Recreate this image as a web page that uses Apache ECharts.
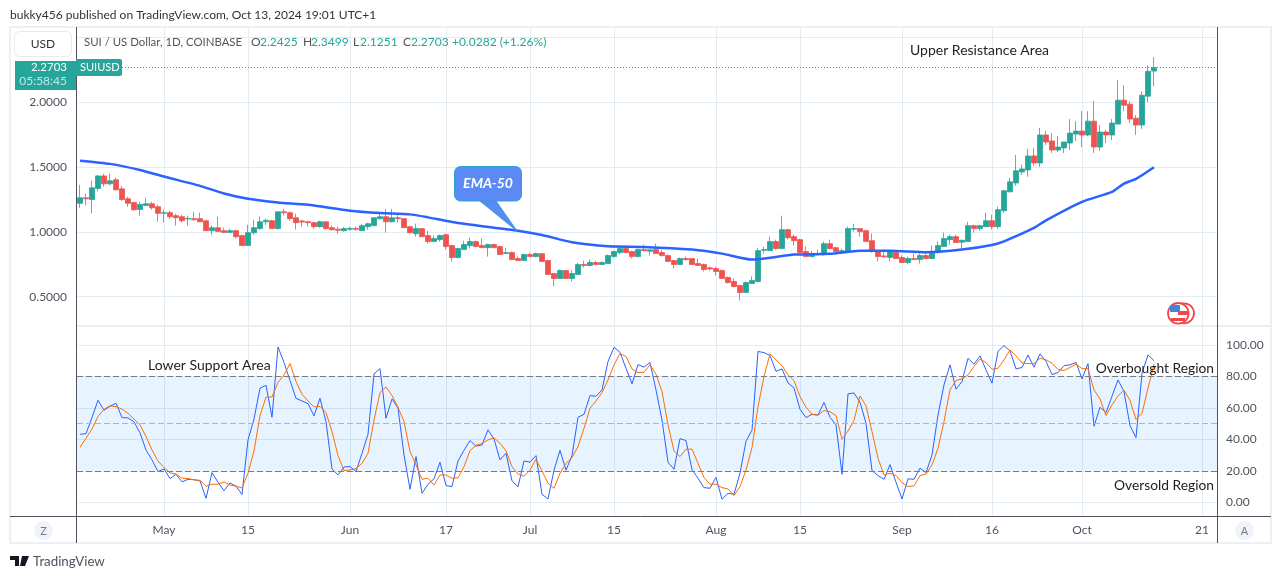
<!DOCTYPE html>
<html>
<head>
<meta charset="utf-8">
<title>SUIUSD</title>
<script src="https://cdn.jsdelivr.net/npm/echarts@6/dist/echarts.min.js"></script>
<style>
  html, body { margin: 0; padding: 0; background: #fff; }
  #chart { width: 1281px; height: 579px; }
</style>
</head>
<body>
<div id="chart"></div>
<script>
// daily candles, first one is 2024-04-17
const opens = [
  1.221,1.264,1.251,1.336,1.433,1.372,1.403,1.333,1.256,1.228,
  1.174,1.205,1.218,1.195,1.144,1.149,1.126,1.118,1.100,1.103,
  1.103,1.087,1.010,1.033,1.010,.997,1.010,.972,.895,.995,
  1.026,1.079,1.087,1.026,1.156,1.149,1.110,1.085,1.079,1.072,
  1.041,1.079,1.033,1.021,1.010,1.021,1.026,1.010,1.041,1.049,
  1.103,1.118,1.079,1.110,1.103,1.041,.987,1.026,.972,.926,
  .941,.979,.895,.803,.864,.895,.926,.895,.879,.903,
  .887,.833,.841,.795,.779,.826,.810,.833,.779,.679,
  .641,.703,.641,.672,.749,.741,.764,.749,.756,.810,
  .841,.872,.849,.810,.864,.851,.864,.841,.818,.779,
  .749,.795,.795,.756,.749,.723,.718,.703,.649,.618,
  .587,.533,.603,.618,.859,.856,.926,.872,1.018,.964,
  .941,.849,.810,.833,.826,.910,.879,.849,.849,1.021,
  1.026,1.010,.933,.856,.815,.803,.841,.803,.764,.795,
  .787,.818,.795,.841,.887,.941,.964,.921,.926,1.049,
  1.026,1.041,1.087,1.041,1.164,1.310,1.379,1.464,1.479,1.587,
  1.533,1.749,1.703,1.633,1.649,1.687,1.756,1.779,1.749,1.856,
  1.656,1.772,1.749,1.833,2.018,1.987,1.879,1.826,2.049,2.2425
]
const closes = [
  1.264,1.256,1.341,1.433,1.372,1.395,1.326,1.251,1.221,1.172,
  1.213,1.218,1.187,1.144,1.149,1.118,1.110,1.087,1.105,1.095,
  1.079,1.010,1.033,1.003,.997,1.010,.964,.895,.995,1.033,
  1.079,1.090,1.026,1.156,1.149,1.103,1.072,1.077,1.072,1.041,
  1.079,1.026,1.018,1.013,1.026,1.026,1.021,1.049,1.064,1.110,
  1.118,1.079,1.110,1.103,1.033,.995,1.026,.964,.926,.949,
  .972,.887,.803,.872,.903,.926,.887,.879,.903,.879,
  .826,.841,.787,.779,.826,.810,.833,.772,.672,.641,
  .703,.641,.679,.749,.741,.764,.749,.764,.818,.849,
  .872,.841,.810,.864,.856,.862,.833,.818,.772,.749,
  .795,.787,.749,.741,.710,.715,.695,.641,.610,.579,
  .533,.610,.626,.856,.864,.926,.872,1.018,.956,.933,
  .841,.810,.833,.826,.910,.872,.849,.856,1.026,1.026,
  1.003,.926,.849,.810,.808,.849,.795,.764,.795,.787,
  .818,.795,.849,.895,.949,.964,.918,.936,1.049,1.026,
  1.049,1.087,1.041,1.172,1.318,1.387,1.472,1.487,1.587,1.533,
  1.749,1.695,1.633,1.656,1.695,1.764,1.779,1.749,1.856,1.656,
  1.772,1.749,1.841,2.018,1.979,1.872,1.826,2.056,2.241,2.2703
]
const lows = [
  1.187,1.205,1.144,1.313,1.351,1.359,1.318,1.241,1.195,1.164,
  1.126,1.203,1.172,1.079,1.074,1.100,1.049,1.072,1.049,1.087,
  1.077,1.010,.979,1.003,.995,.995,.949,.895,.895,.979,
  1.018,1.056,1.026,1.018,1.126,1.087,1.018,1.041,1.041,1.026,
  1.033,1.018,1.010,.987,1.003,1.010,1.010,1.010,1.018,1.049,
  1.095,.995,1.072,1.072,1.033,.987,.964,.964,.910,.926,
  .926,.864,.772,.795,.864,.872,.887,.879,.810,.879,
  .826,.833,.787,.779,.779,.810,.803,.772,.672,.579,
  .641,.641,.618,.672,.726,.733,.741,.749,.756,.803,
  .826,.841,.795,.803,.849,.818,.833,.810,.772,.718,
  .749,.779,.749,.741,.695,.703,.664,.641,.603,.572,
  .472,.533,.603,.610,.833,.856,.864,.872,.941,.895,
  .833,.810,.803,.818,.818,.864,.841,.833,.841,1.003,
  .964,.926,.841,.772,.803,.772,.795,.764,.749,.787,
  .756,.787,.795,.833,.887,.903,.918,.872,.926,.995,
  1.010,1.041,1.018,1.026,1.149,1.310,1.356,1.441,1.426,1.510,
  1.503,1.672,1.610,1.618,1.610,1.633,1.703,1.656,1.741,1.610,
  1.626,1.687,1.710,1.833,1.933,1.841,1.749,1.795,2.003,2.1251
]
const highs = [
  1.364,1.295,1.395,1.441,1.449,1.449,1.418,1.356,1.272,1.233,
  1.233,1.262,1.233,1.210,1.172,1.164,1.141,1.133,1.126,1.156,
  1.149,1.087,1.049,1.118,1.033,1.026,1.018,.979,1.056,1.095,
  1.118,1.103,1.095,1.156,1.179,1.156,1.141,1.095,1.087,1.079,
  1.087,1.079,1.049,1.041,1.038,1.041,1.041,1.064,1.072,1.110,
  1.141,1.179,1.179,1.133,1.103,1.049,1.064,1.026,1.010,.972,
  .979,.987,.903,.879,.933,.956,.933,.949,.910,.910,
  .895,.879,.849,.810,.833,.841,.841,.833,.787,.679,
  .710,.703,.703,.764,.779,.787,.779,.772,.826,.856,
  .879,.895,.856,.872,.903,.864,.910,.864,.826,.779,
  .803,.810,.795,.795,.756,.733,.733,.710,.656,.641,
  .587,.618,.656,.879,.887,.964,.941,1.126,1.026,.979,
  .949,.887,.856,.864,.926,.941,.887,.872,1.041,1.064,
  1.026,1.018,.987,.856,.864,.856,.849,.818,.810,.833,
  .833,.849,.895,.926,.995,.979,.979,.941,1.079,1.056,
  1.056,1.149,1.133,1.195,1.326,1.418,1.595,1.518,1.641,1.649,
  1.803,1.779,1.764,1.741,1.695,1.872,1.856,1.933,1.933,2.010,
  1.826,1.787,1.872,2.172,2.133,2.010,1.903,2.087,2.287,2.3499
]

// EMA-50, read every few days
const emaBars = [0,5,10,14,20,24,28,33,38,45,50,55,58,63,73,77,82,88,94,102,107,112,119,125,130,135,141,147,152,154,159,161,167,172,174,176,179]
const emaValues = [1.551,1.526,1.479,1.428,1.356,1.297,1.256,1.228,1.210,1.164,1.146,1.136,1.113,1.069,1.010,.977,.921,.890,.885,.864,.833,.787,.826,.831,.856,.856,.844,.864,.900,.928,1.031,1.090,1.233,1.310,1.374,1.410,1.500]

// stochastic RSI
const stochK = [
  43.3,43.7,53.9,65.0,58.6,61.1,63.1,53.9,53.7,51.2,
  44.2,33.3,27.0,19.5,21.2,15.1,17.8,13.0,14.6,14.4,
  13.6,2.5,18.9,12.7,7.4,12.3,10.2,4.9,39.7,53.1,
  72.6,74.5,54.1,98.9,89.0,77.5,66.2,64.5,62.8,55.0,
  66.2,51.4,21.2,17.4,22.5,22.7,19.5,31.2,43.3,81.7,
  85.1,53.5,65.8,59.9,30.1,8.3,29.1,5.7,11.5,14.9,
  25.5,10.6,10.0,26.3,33.1,39.3,35.7,36.5,46.1,40.3,
  27.0,31.2,13.6,9.8,26.3,25.5,29.7,5.1,2.1,20.4,
  33.1,20.4,29.7,54.1,56.0,67.9,67.5,71.5,89.6,98.7,
  95.5,85.3,75.4,87.7,86.0,89.0,71.5,52.4,25.5,21.0,
  40.5,39.3,20.8,15.3,9.3,8.9,15.9,1.9,5.7,5.1,
  18.5,38.9,45.9,96.0,95.3,93.4,83.4,84.9,76.0,72.8,
  59.2,53.9,56.0,55.6,63.5,54.1,49.3,17.8,69.0,69.6,
  63.7,50.3,20.2,17.0,14.6,24.0,12.7,2.1,14.9,14.6,
  21.7,18.9,30.1,55.6,74.7,87.5,72.0,76.9,91.7,87.9,
  93.2,84.3,75.8,96.0,99.8,96.4,84.9,85.8,93.8,86.0,
  94.5,89.6,81.3,82.6,87.0,87.5,89.0,78.6,88.3,48.4,
  60.5,57.1,67.5,77.9,70.5,48.8,41.2,82.2,93.8,90.2
]
const stochD = [
  35.0,40.8,46.7,54.6,59.2,61.4,60.9,59.2,56.7,52.9,
  49.3,41.8,33.3,26.3,22.1,18.7,18.0,15.3,15.1,14.2,
  14.0,10.2,11.5,11.5,13.0,11.0,10.2,9.1,18.5,32.7,
  55.2,66.9,67.1,76.2,81.1,88.3,76.9,68.8,64.5,60.7,
  61.1,57.1,45.0,29.7,20.2,20.6,21.4,24.8,31.2,52.4,
  69.8,73.5,67.9,60.5,51.4,32.3,23.8,14.6,15.3,11.0,
  17.4,17.4,15.3,15.5,22.7,32.9,36.3,37.4,39.7,41.0,
  37.6,32.7,22.7,18.0,16.6,20.4,27.4,20.0,12.1,8.9,
  18.5,24.8,28.4,35.5,47.1,59.9,64.5,69.8,77.9,87.5,
  94.7,92.8,84.9,82.6,82.8,87.5,81.5,70.5,49.3,32.7,
  29.1,33.8,33.8,24.8,15.7,11.5,11.5,9.3,8.5,4.2,
  10.0,20.6,34.8,60.9,80.0,94.5,90.7,87.0,81.1,77.5,
  67.3,60.5,56.0,55.4,58.4,57.7,55.2,40.1,45.4,52.0,
  67.7,61.4,45.0,28.0,17.4,18.5,17.0,12.5,10.0,10.4,
  17.0,18.0,23.8,34.4,51.4,71.5,77.5,78.6,81.1,86.4,
  91.1,89.0,84.7,85.3,90.7,97.0,93.2,88.7,88.3,88.3,
  91.7,90.7,88.5,84.5,83.9,85.8,87.9,85.1,85.1,71.5,
  65.8,55.2,62.0,67.7,71.5,64.8,52.7,56.7,72.6,87.9
]

// time axis, the last ten days have no bars yet
const categories = []
for (let i = 0; i < 190; i++) {
  categories.push(new Date(Date.UTC(2024, 3, 17 + i)).toISOString().slice(0, 10))
}
const tickDays = ['2024-05-01','2024-05-15','2024-06-01','2024-06-17','2024-07-01','2024-07-15','2024-08-01','2024-08-15','2024-09-01','2024-09-16','2024-10-01','2024-10-21']
const tickLabels = ['May','15','Jun','17','Jul','15','Aug','15','Sep','16','Oct','21']
const priceTicks = [0.5, 1, 1.5, 2]
const priceGrid = [0.5, 1, 1.5, 2, 2.5]
const stochTicks = [0, 20, 40, 60, 80, 100]
const lastPrice = 2.2703

const UP = '#26a69a'
const DOWN = '#ef5350'
const GRID = '#e3ebf3'
const AXIS = '#50535e'
const FONT = 'Lato, sans-serif'

const isTick = (i, v) => tickDays.includes(v)

function txt(x, y, text, size, fill, align, extra) {
  return {
    type: 'text',
    z: 20,
    style: Object.assign({
      x, y, text, fill,
      font: size + 'px ' + FONT,
      textAlign: align || 'left',
      textVerticalAlign: 'middle'
    }, extra)
  }
}
function ln(x1, y1, x2, y2, color, width) {
  return { type: 'line', z: 15, shape: { x1, y1, x2, y2 }, style: { stroke: color, lineWidth: width || 1 } }
}
function box(x, y, width, height, fill, r, stroke, z) {
  return { type: 'rect', z: z || 18, shape: { x, y, width, height, r: r || 0 }, style: { fill, stroke: stroke || null } }
}
function dot(cx, cy, r, fill, stroke, width) {
  return { type: 'circle', z: 19, shape: { cx, cy, r }, style: { fill, stroke, lineWidth: width || 1 } }
}
function poly(points, fill, stroke) {
  return { type: 'polygon', z: 18, shape: { points }, style: { fill, stroke: stroke || null } }
}

const graphics = [
  // frame and pane borders
  { type: 'rect', z: 14, shape: { x: 10, y: 27, width: 1261, height: 516 }, style: { fill: 'none', stroke: '#eceff3', lineWidth: 2 } },
  ln(76, 326, 1271, 326, '#e6e9ef', 1.5),
  ln(10, 516.5, 1271, 516.5, AXIS, 1),
  ln(76.5, 27, 76.5, 543, AXIS, 1),
  ln(1217.5, 27, 1217.5, 543, AXIS, 1),

  txt(10, 15, 'bukky456 published on TradingView.com, Oct 13, 2024 19:01 UTC+1', 12, '#333'),

  // symbol legend
  txt(84, 42, 'SUI / US Dollar, 1D, COINBASE', 11.4, '#555'),
  txt(251, 42, 'O', 12, '#555'), txt(260, 42, '2.2425', 12, UP),
  txt(303, 42, 'H', 12, '#555'), txt(311, 42, '2.3499', 12, UP),
  txt(353, 42, 'L', 12, '#555'), txt(360, 42, '2.1251', 12, UP),
  txt(403, 42, 'C', 12, '#555'), txt(411, 42, '2.2703', 12, UP),
  txt(452, 42, '+0.0282 (+1.26%)', 12, UP),

  // price scale widgets
  box(14.5, 31.5, 57, 25, '#fff', 5, '#e6e9ef'),
  txt(43, 44, 'USD', 12, '#333', 'center'),
  box(15, 61, 61, 29, UP),
  txt(67, 67.5, '2.2703', 11.5, '#fff', 'right'),
  txt(67, 81.5, '05:58:45', 12, '#c4e6e2', 'right'),
  box(76, 59, 46, 17, UP, [0, 2, 2, 0]),
  txt(80, 67.5, 'SUIUSD', 11, '#fff'),

  // annotations
  txt(910, 50, 'Upper Resistance Area', 14, '#222'),
  txt(148, 365, 'Lower Support Area', 14, '#222'),
  txt(1214, 369, 'Overbought Region', 13.8, '#222', 'right'),
  txt(1214, 486, 'Oversold Region', 13.8, '#222', 'right'),

  // EMA-50 callout
  poly([[480, 201], [517, 231], [496, 201]], '#5b8af5', '#2f9fd0'),
  box(454.5, 166.5, 67, 34.5, '#5b8af5', 6, '#2f9fd0'),
  ln(481, 201, 495.5, 201, '#5b8af5', 1.5),
  txt(488, 183, 'EMA-50', 13, '#fff', 'center', { font: 'italic bold 14px ' + FONT }),

  // flag badge
  dot(1184, 313.3, 10, '#fff', '#f0474d', 1.8),
  dot(1178.3, 313.3, 10.3, '#fff', '#f0474d', 1.8),
  box(1178, 311, 10, 4, '#f0474d', 0, null, 20),
  box(1171, 318, 14, 3, '#f0474d', 0, null, 20),
  box(1170, 305, 10, 7, '#3f86e0', 1, null, 20),

  // scale buttons
  dot(43.5, 530.5, 9.5, '#f0f3fa', 'none'),
  txt(43.5, 531, 'Z', 11, '#787b86', 'center'),
  dot(1244.5, 530.5, 9.5, '#f0f3fa', 'none'),
  txt(1244.5, 531, 'A', 11, '#787b86', 'center'),

  // TradingView mark
  poly([[10, 556], [19, 556], [19, 566], [15, 566], [15, 560], [10, 560]], '#131722'),
  poly([[22, 556], [29, 556], [25, 566], [20, 566]], '#131722'),
  txt(33, 562, 'TradingView', 13.3, '#50535e')
]

const option = {
  animation: false,
  backgroundColor: '#fff',
  textStyle: { fontFamily: FONT },
  grid: [
    { left: 77, width: 1140, top: 27, height: 299 },
    { left: 77, width: 1140, top: 327, height: 189.7 }
  ],
  xAxis: [0, 1].map(k => ({
    type: 'category',
    gridIndex: k,
    data: categories,
    boundaryGap: true,
    axisLine: { show: false },
    axisTick: { show: false },
    axisLabel: {
      show: k === 1,
      interval: isTick,
      formatter: v => tickLabels[tickDays.indexOf(v)],
      color: '#50535e',
      fontSize: 12,
      margin: 7
    },
    splitLine: { show: true, alignWithLabel: true, interval: isTick, lineStyle: { color: GRID, width: 1 } }
  })),
  yAxis: [
    {
      type: 'value',
      gridIndex: 0,
      min: 0.274,
      max: 2.583,
      position: 'left',
      axisLine: { show: false },
      axisTick: { show: false, customValues: priceGrid },
      axisLabel: { customValues: priceTicks, formatter: v => v.toFixed(4), color: '#50535e', fontSize: 12, margin: 10 },
      splitLine: { lineStyle: { color: GRID, width: 1 } }
    },
    {
      type: 'value',
      gridIndex: 1,
      min: -9.2,
      max: 111.6,
      position: 'right',
      axisLine: { show: false },
      axisTick: { show: false, customValues: stochTicks },
      axisLabel: { customValues: stochTicks, formatter: v => v.toFixed(2), color: '#50535e', fontSize: 12, margin: 9 },
      splitLine: { lineStyle: { color: GRID, width: 1 } }
    }
  ],
  series: [
    {
      type: 'candlestick',
      xAxisIndex: 0,
      yAxisIndex: 0,
      barWidth: 5,
      data: opens.map((o, i) => [o, closes[i], lows[i], highs[i]]),
      itemStyle: { color: UP, color0: DOWN, borderColor: UP, borderColor0: DOWN, borderWidth: 0.8 },
      markLine: {
        silent: true,
        symbol: 'none',
        label: { show: false },
        lineStyle: { color: UP, type: [1, 2], width: 1 },
        data: [{ yAxis: lastPrice }]
      }
    },
    {
      name: 'EMA-50',
      type: 'line',
      xAxisIndex: 0,
      yAxisIndex: 0,
      smooth: 0.2,
      showSymbol: false,
      data: emaBars.map((b, i) => [b, emaValues[i]]),
      lineStyle: { color: '#2962ff', width: 2.5 },
      z: 3
    },
    {
      name: 'K',
      type: 'line',
      xAxisIndex: 1,
      yAxisIndex: 1,
      showSymbol: false,
      data: stochK,
      lineStyle: { color: '#2962ff', width: 1 },
      z: 3,
      markArea: {
        silent: true,
        itemStyle: { color: 'rgba(33,150,243,0.11)' },
        data: [[{ yAxis: 20 }, { yAxis: 80 }]]
      },
      markLine: {
        silent: true,
        symbol: 'none',
        label: { show: false },
        lineStyle: { color: '#787b86', type: [6, 3], width: 1 },
        data: [
          { yAxis: 80 },
          { yAxis: 20 },
          { yAxis: 50, lineStyle: { color: '#b2b5be', type: [6, 3] } }
        ]
      }
    },
    {
      name: 'D',
      type: 'line',
      xAxisIndex: 1,
      yAxisIndex: 1,
      showSymbol: false,
      data: stochD,
      lineStyle: { color: '#ff6d00', width: 1 },
      z: 4
    }
  ],
  graphic: { elements: graphics }
}

const chart = echarts.init(document.getElementById('chart'))
chart.setOption(option)
</script>
</body>
</html>
